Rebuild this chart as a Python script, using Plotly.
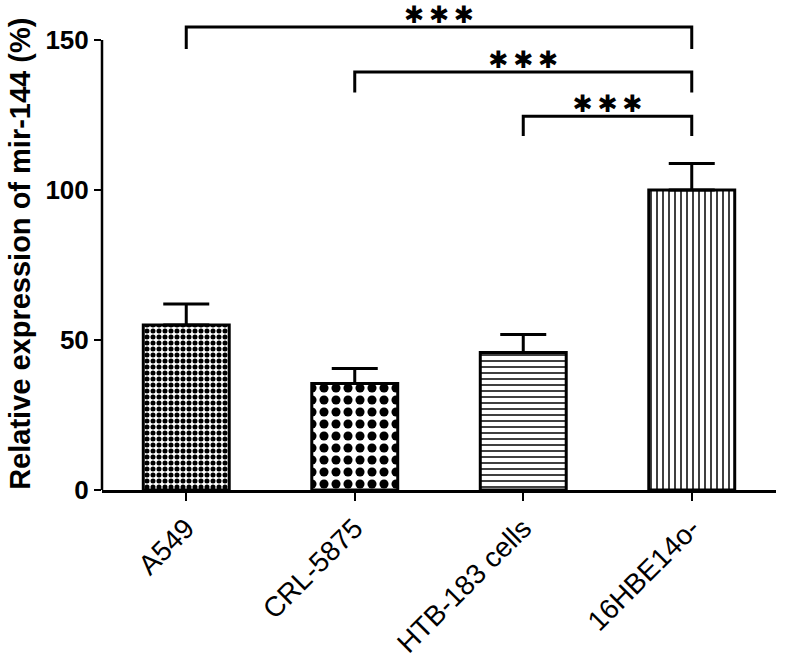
import plotly.graph_objects as go

categories = ["A549", "CRL-5875", "HTB-183 cells", "16HBE14o-"]
values = [55, 35.5, 45.8, 100]
errors = [7, 5, 6, 8.8]
patterns = [".", ".", "-", "|"]
pattern_sizes = [6, 12, 6, 6]
pattern_solid = [0.55, 0.45, 0.25, 0.25]

# significance brackets: (left index, right index, bar height, drop height, label)
br_left = [0, 1, 2]
br_right = [3, 3, 3]
br_top = [154.3, 139.3, 124.6]
br_bottom = [147, 132.5, 118]
br_label = ["\u2731\u2009\u2731\u2009\u2731"] * 3
y_ticks = [0, 50, 100, 150]
y_title = "<b>Relative expression of mir-144 (%)</b>"

fig = go.Figure()
fig.add_trace(go.Bar(
    x=list(range(len(categories))), y=values, width=0.51,
    marker=dict(color="white", line=dict(color="black", width=3),
                pattern=dict(shape=patterns, size=pattern_sizes, solidity=pattern_solid,
                             fgcolor="black", bgcolor="white", fgopacity=1,
                             fillmode="overlay")),
    error_y=dict(type="data", symmetric=False, array=errors, arrayminus=[0]*len(errors),
                 color="black", thickness=3, width=23),
    showlegend=False,
))

for l, r, t, b, lab in zip(br_left, br_right, br_top, br_bottom, br_label):
    fig.add_trace(go.Scatter(x=[l, l, r, r], y=[b, t, t, b], mode="lines",
                             line=dict(color="black", width=3), showlegend=False,
                             cliponaxis=False, hoverinfo="skip"))
    fig.add_trace(go.Scatter(x=[(l + r) / 2], y=[t + 3.5], mode="text", text=[lab],
                             textposition="middle center",
                             textfont=dict(family="DejaVu Sans", size=24, color="black"),
                             showlegend=False, cliponaxis=False, hoverinfo="skip"))

fig.add_shape(type="line", xref="paper", x0=0, x1=0, yref="y", y0=0, y1=150,
              line=dict(color="black", width=2.5))

fig.add_annotation(text=y_title, textangle=-90, xref="paper", yref="paper",
                   x=0, y=0.492, xanchor="center", yanchor="middle", xshift=-82,
                   showarrow=False,
                   font=dict(size=29, family="Liberation Sans", color="black"))

fig.update_layout(
    width=786, height=667,
    margin=dict(l=102, r=10, t=10, b=177, autoexpand=False),
    plot_bgcolor="white", paper_bgcolor="white",
    font=dict(family="Liberation Sans", color="black"),
    xaxis=dict(range=[-0.5, 3.5], tickmode="array", tickvals=list(range(len(categories))),
               ticktext=categories, tickangle=-45, showline=True, linecolor="black",
               linewidth=2.5, ticks="outside", ticklen=8, tickwidth=2, tickcolor="black",
               tickfont=dict(size=28, family="Liberation Sans", color="black"),
               showgrid=False, zeroline=False, automargin=False),
    yaxis=dict(range=[0, 160], tickmode="array", tickvals=y_ticks,
               ticktext=["<b>%d</b>" % v for v in y_ticks], showline=False,
               ticks="outside", ticklen=7, tickwidth=2, tickcolor="black",
               tickfont=dict(size=26, family="Liberation Sans", color="black"),
               showgrid=False, zeroline=False, automargin=False),
)

fig.write_html("out.html", config={"displayModeBar": False},
               post_script="document.body.style.margin='0';")
